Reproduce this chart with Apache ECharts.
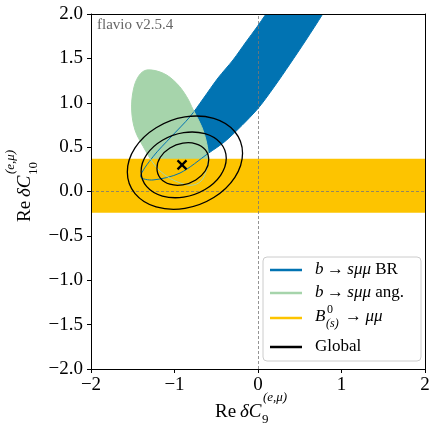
<!DOCTYPE html>
<html>
<head>
<meta charset="utf-8">
<script src="https://cdn.jsdelivr.net/npm/echarts@6/dist/echarts.min.js"></script>
<style>
html, body { margin: 0; padding: 0; background: #fff; }
#main { width: 429px; height: 427px; }
</style>
</head>
<body>
<div id="main"></div>
<script>
// 坐标范围
var xRange = [-2, 2];
var yRange = [-2, 2];

// b -> s mu mu BR 区域 (上沿: 左下 -> 右上, 下沿: 右上 -> 左下)
var brUpper = [[-1.405, 0.167], [-1.257, 0.392], [-1.042, 0.614], [-0.814, 0.843], [-0.659, 1.042],
  [-0.479, 1.279], [-0.299, 1.482], [-0.144, 1.685], [-0.012, 1.854], [0.096, 2.0], [0.168, 2.09]];
var brLower = [[0.826, 2.09], [0.775, 2.0], [0.575, 1.707], [0.383, 1.437], [0.192, 1.177], [-0.016, 0.918],
  [-0.375, 0.58], [-0.595, 0.43], [-0.934, 0.208], [-1.257, 0.13]];

// b -> s mu mu 角分布 区域
var angOutline = [[-1.333, 1.369], [-1.134, 1.332], [-0.974, 1.219], [-0.854, 1.068], [-0.775, 0.918],
  [-0.674, 0.730], [-0.614, 0.543], [-0.595, 0.392], [-0.615, 0.25], [-0.68, 0.12], [-0.80, 0.07],
  [-0.97, 0.11], [-1.12, 0.19], [-1.24, 0.30], [-1.374, 0.505], [-1.473, 0.693], [-1.513, 0.918],
  [-1.493, 1.144], [-1.43, 1.30]];

// B(s) -> mu mu 带
var bsRange = [-0.24, 0.37];

// Global 拟合
var globalBest = [-0.91, 0.30];
var global1 = [[-0.59, 0.358], [-0.63, 0.469], [-0.745, 0.538], [-0.90, 0.545], [-1.055, 0.49], [-1.17, 0.386],
  [-1.21, 0.262], [-1.17, 0.151], [-1.055, 0.082], [-0.90, 0.075], [-0.745, 0.13], [-0.63, 0.234]];
var global2 = [[-0.38, 0.374], [-0.448, 0.545], [-0.635, 0.651], [-0.89, 0.663], [-1.145, 0.577], [-1.332, 0.417],
  [-1.40, 0.226], [-1.332, 0.055], [-1.145, -0.051], [-0.89, -0.063], [-0.635, 0.023], [-0.448, 0.183]];
var global3 = [[-0.185, 0.43], [-0.277, 0.673], [-0.53, 0.823], [-0.875, 0.84], [-1.22, 0.718], [-1.473, 0.491],
  [-1.565, 0.22], [-1.473, -0.023], [-1.22, -0.173], [-0.875, -0.19], [-0.53, -0.068], [-0.277, 0.159]];

var BLUE = '#0173b2', GREEN = '#a6d4ab', YELLOW = '#fdc400';
var FONT = "'Liberation Serif', 'DejaVu Serif', serif";

var brOutline = brUpper.concat(brLower);
var bsOutline = [[xRange[0], bsRange[0]], [xRange[1], bsRange[0]], [xRange[1], bsRange[1]], [xRange[0], bsRange[1]]];

function minus(s) { return String(s).replace('-', '\u2212'); }

// 多边形
function polySeries(points, style, smooth, z) {
  return {
    type: 'custom',
    z: z,
    clip: true,
    silent: true,
    data: points,
    renderItem: function (params, api) {
      if (params.dataIndex !== 0) return null;
      var pts = points.map(function (p) { return api.coord(p); });
      return { type: 'polygon', shape: { points: pts, smooth: smooth }, style: style };
    }
  };
}

var myChart = echarts.init(document.getElementById('main'));

var option = {
  animation: false,
  grid: { left: 91, right: 4, top: 14, bottom: 58, outerBoundsMode: 'none', containLabel: false },
  xAxis: [{
    type: 'value', min: xRange[0], max: xRange[1], interval: 1, z: 10,
    axisLine: { onZero: false, lineStyle: { color: '#000', width: 1 } },
    axisTick: { length: 4, lineStyle: { color: '#000' } },
    splitLine: { show: false },
    axisLabel: { color: '#000', fontFamily: FONT, fontSize: 19, margin: 7, formatter: function (v) { return minus(v); } }
  }, {
    type: 'value', position: 'top', min: xRange[0], max: xRange[1], z: 10,
    axisLine: { show: true, onZero: false, lineStyle: { color: '#000', width: 1 } },
    axisTick: { show: false }, axisLabel: { show: false }, splitLine: { show: false }
  }],
  yAxis: [{
    type: 'value', min: yRange[0], max: yRange[1], interval: 0.5, z: 10,
    axisLine: { show: true, onZero: false, lineStyle: { color: '#000', width: 1 } },
    axisTick: { show: true, length: 4, lineStyle: { color: '#000' } },
    splitLine: { show: false },
    axisLabel: { color: '#000', fontFamily: FONT, fontSize: 19, margin: 8, formatter: function (v) { return minus(v.toFixed(1)); } }
  }, {
    type: 'value', position: 'right', min: yRange[0], max: yRange[1], z: 10,
    axisLine: { show: true, onZero: false, lineStyle: { color: '#000', width: 1 } },
    axisTick: { show: false }, axisLabel: { show: false }, splitLine: { show: false }
  }],
  series: [
    polySeries(brOutline, { fill: BLUE }, 0.3, 1),
    polySeries(angOutline, { fill: GREEN }, 0.35, 2),
    polySeries(bsOutline, { fill: YELLOW }, 0, 3),
    {
      type: 'line', data: [], z: 4,
      markLine: {
        silent: true, symbol: 'none', label: { show: false },
        lineStyle: { color: '#777', width: 0.8, type: [3, 2] },
        data: [{ xAxis: 0 }, { yAxis: 0 }]
      }
    },
    polySeries(brOutline, { fill: 'none', stroke: BLUE, lineWidth: 1 }, 0.3, 5),
    polySeries(angOutline, { fill: 'none', stroke: GREEN, lineWidth: 1 }, 0.35, 5),
    polySeries(global1, { fill: 'none', stroke: '#000', lineWidth: 1.3 }, 0.35, 6),
    polySeries(global2, { fill: 'none', stroke: '#000', lineWidth: 1.3 }, 0.35, 6),
    polySeries(global3, { fill: 'none', stroke: '#000', lineWidth: 1.3 }, 0.35, 6),
    {
      type: 'custom', z: 7, silent: true, data: [globalBest],
      renderItem: function (params, api) {
        var c = api.coord([api.value(0), api.value(1)]);
        var r = 4.5;
        return {
          type: 'group', children: [
            { type: 'line', shape: { x1: c[0] - r, y1: c[1] - r, x2: c[0] + r, y2: c[1] + r }, style: { stroke: '#000', lineWidth: 2.2 } },
            { type: 'line', shape: { x1: c[0] - r, y1: c[1] + r, x2: c[0] + r, y2: c[1] - r }, style: { stroke: '#000', lineWidth: 2.2 } }
          ]
        };
      }
    }
  ],
  graphic: [
    // flavio 版本
    { type: 'text', left: 97, top: 18, z: 20, style: { text: 'flavio v2.5.4', fill: '#666', font: '15px ' + FONT } },
    // x 轴标题
    {
      type: 'group', x: 215, y: 412, z: 20, children: [
        { type: 'text', x: 0, y: 0, style: { text: 'Re', font: '19px ' + FONT, fill: '#000', verticalAlign: 'middle' } },
        { type: 'text', x: 25, y: 0, style: { text: 'δC', font: 'italic 19px ' + FONT, fill: '#000', verticalAlign: 'middle' } },
        { type: 'text', x: 48, y: -14, style: { text: '(e,μ)', font: 'italic 13px ' + FONT, fill: '#000', verticalAlign: 'middle' } },
        { type: 'text', x: 47, y: 8, style: { text: '9', font: '13px ' + FONT, fill: '#000', verticalAlign: 'middle' } }
      ]
    },
    // y 轴标题
    {
      type: 'group', x: 25, y: 222, rotation: Math.PI / 2, z: 20, children: [
        { type: 'text', x: 0, y: 0, style: { text: 'Re', font: '19px ' + FONT, fill: '#000', verticalAlign: 'middle' } },
        { type: 'text', x: 25, y: 0, style: { text: 'δC', font: 'italic 19px ' + FONT, fill: '#000', verticalAlign: 'middle' } },
        { type: 'text', x: 48, y: -14, style: { text: '(e,μ)', font: 'italic 13px ' + FONT, fill: '#000', verticalAlign: 'middle' } },
        { type: 'text', x: 47, y: 9, style: { text: '10', font: '13px ' + FONT, fill: '#000', verticalAlign: 'middle' } }
      ]
    },
    // 图例
    {
      type: 'group', x: 263, y: 257, z: 20, children: [
        { type: 'rect', shape: { x: 0, y: 0, width: 158, height: 104, r: 4 }, style: { fill: 'rgba(255,255,255,0.8)', stroke: '#ccc', lineWidth: 1 } },
        { type: 'line', shape: { x1: 7, y1: 13, x2: 39, y2: 13 }, style: { stroke: BLUE, lineWidth: 2.5 } },
        { type: 'line', shape: { x1: 7, y1: 36, x2: 39, y2: 36 }, style: { stroke: GREEN, lineWidth: 2.5 } },
        { type: 'line', shape: { x1: 7, y1: 61, x2: 39, y2: 61 }, style: { stroke: YELLOW, lineWidth: 2.5 } },
        { type: 'line', shape: { x1: 7, y1: 90, x2: 39, y2: 90 }, style: { stroke: '#000', lineWidth: 2.5 } },
        { type: 'text', x: 52, y: 13, style: { text: '{i|b}\u2009→\u2009{i|sμμ} BR', font: '17px ' + FONT, fill: '#000', verticalAlign: 'middle', rich: { i: { fontStyle: 'italic', fontFamily: FONT, fontSize: 17 } } } },
        { type: 'text', x: 52, y: 36, style: { text: '{i|b}\u2009→\u2009{i|sμμ} ang.', font: '17px ' + FONT, fill: '#000', verticalAlign: 'middle', rich: { i: { fontStyle: 'italic', fontFamily: FONT, fontSize: 17 } } } },
        { type: 'text', x: 52, y: 60, style: { text: 'B', font: 'italic 17px ' + FONT, fill: '#000', verticalAlign: 'middle' } },
        { type: 'text', x: 64, y: 53, style: { text: '0', font: '12px ' + FONT, fill: '#000', verticalAlign: 'middle' } },
        { type: 'text', x: 63, y: 67, style: { text: '(s)', font: 'italic 12px ' + FONT, fill: '#000', verticalAlign: 'middle' } },
        { type: 'text', x: 82, y: 60, style: { text: '→\u2009{i|μμ}', font: '17px ' + FONT, fill: '#000', verticalAlign: 'middle', rich: { i: { fontStyle: 'italic', fontFamily: FONT, fontSize: 17 } } } },
        { type: 'text', x: 52, y: 90, style: { text: 'Global', font: '17px ' + FONT, fill: '#000', verticalAlign: 'middle' } }
      ]
    }
  ]
};

myChart.setOption(option);
</script>
</body>
</html>
